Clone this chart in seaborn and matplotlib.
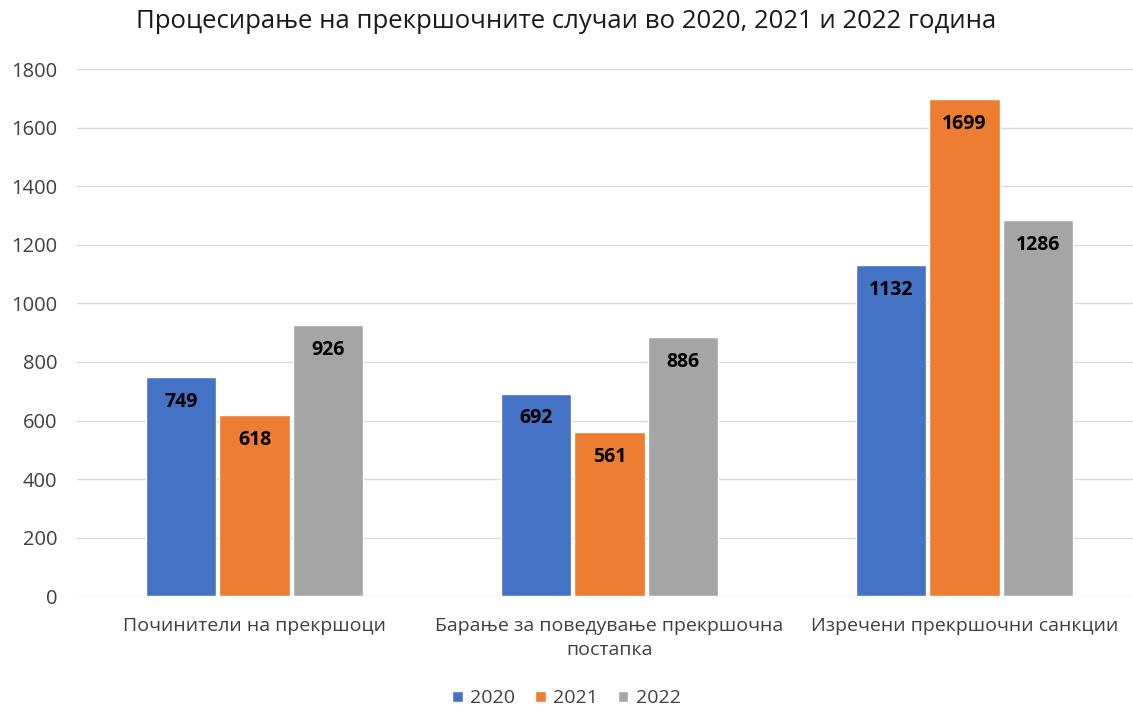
import matplotlib
matplotlib.use('Agg')
import matplotlib.pyplot as plt
import seaborn as sns
import pandas as pd

categories = ['Починители на прекршоци',
              'Барање за поведување прекршочна\nпостапка',
              'Изречени прекршочни санкции']
years = ['2020', '2021', '2022']
values_2020 = [749, 692, 1132]
values_2021 = [618, 561, 1699]
values_2022 = [926, 886, 1286]
colors = ['#4472C4', '#ED7D31', '#A5A5A5']

df = pd.DataFrame({
    'category': categories * 3,
    'year': [y for y in years for _ in categories],
    'value': values_2020 + values_2021 + values_2022,
})

sns.set_theme(style='white')
plt.rcParams['font.family'] = ['Open Sans', 'DejaVu Sans']

fig = plt.figure(figsize=(11.33, 7.14), dpi=100)
ax = fig.add_axes([0.068, 0.165, 0.94, 0.738])

sns.barplot(data=df, x='category', y='value', hue='year', hue_order=years,
            palette=colors, width=0.62, gap=0.04, ax=ax, saturation=1,
            legend=True)

for container in ax.containers:
    for bar in container:
        h = bar.get_height()
        ax.text(bar.get_x() + bar.get_width() / 2, h - 85, f'{int(h)}',
                ha='center', va='center', fontsize=14, fontweight='bold',
                color='black')

ax.set_ylim(0, 1800)
ax.set_yticks(range(0, 1801, 200))
ax.set_xlim(-0.5, 2.5)
ax.yaxis.grid(True, color='#D9D9D9', linewidth=1)
ax.set_axisbelow(True)
for s in ax.spines.values():
    s.set_visible(False)
ax.tick_params(axis='both', length=0, colors='#404040')
ax.tick_params(axis='x', pad=15, labelsize=14)
ax.tick_params(axis='y', pad=14, labelsize=14.5)
for lbl in ax.get_xticklabels():
    lbl.set_linespacing(1.45)
ax.set_xlabel('')
ax.set_ylabel('')

ax.legend_.remove()
handles, labels = ax.get_legend_handles_labels()
fig.legend(handles, labels, loc='center', ncol=3, frameon=False,
           bbox_to_anchor=(0.5, 0.022), fontsize=14, handlelength=0.55,
           handleheight=0.55, handletextpad=0.4, columnspacing=1.0,
           borderpad=0.1, labelcolor='#404040')

fig.suptitle('Процесирање на прекршочните случаи во 2020, 2021 и 2022 година',
             y=0.988, fontsize=18.5, color='#1a1a1a')

fig.savefig('out.png', dpi=100)
